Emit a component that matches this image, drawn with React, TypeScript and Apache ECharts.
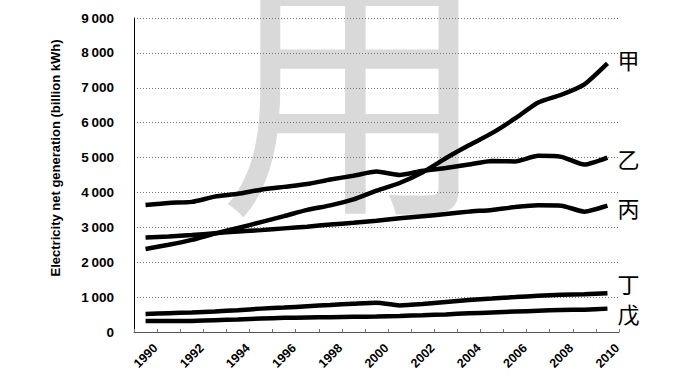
import React, { useEffect, useRef } from 'react';
import * as echarts from 'echarts';

const years = ['1990','1991','1992','1993','1994','1995','1996','1997','1998','1999','2000','2001','2002','2003','2004','2005','2006','2007','2008','2009','2010'];
const seriesNames = ['甲', '乙', '丙', '丁', '戊'];
const jia = [2380, 2500, 2640, 2820, 2980, 3150, 3320, 3500, 3630, 3800, 4050, 4270, 4580, 4980, 5350, 5700, 6120, 6580, 6800, 7100, 7700];
const yi = [3640, 3700, 3730, 3880, 3960, 4080, 4160, 4240, 4370, 4480, 4600, 4500, 4620, 4700, 4800, 4900, 4890, 5050, 5020, 4800, 5000];
const bing = [2710, 2740, 2780, 2830, 2880, 2920, 2970, 3020, 3080, 3130, 3190, 3260, 3320, 3380, 3450, 3500, 3580, 3630, 3620, 3450, 3620];
const ding = [516, 540, 560, 590, 625, 670, 700, 740, 775, 810, 840, 760, 800, 860, 920, 960, 1000, 1040, 1070, 1080, 1110];
const wu = [315, 315, 318, 340, 360, 385, 405, 415, 425, 435, 445, 460, 480, 505, 535, 560, 585, 610, 630, 640, 670];
const yAxisTitle = 'Electricity net generation (billion kWh)';
const watermark = '用';

const labelDy = [-4, 0, 1, -10, 4];
const FONT = '"Liberation Sans", Arial, sans-serif';

export default function App() {
  const ref = useRef<HTMLDivElement>(null);
  useEffect(() => {
    document.body.style.margin = '0';
    const chart = echarts.init(ref.current!, null, { renderer: 'svg' });
    const allData = [jia, yi, bing, ding, wu];
    chart.setOption({
      animation: false,
      backgroundColor: '#fff',
      grid: { left: 134, right: 56, top: 18, bottom: 59, containLabel: false },
      xAxis: {
        type: 'category',
        data: years,
        boundaryGap: true,
        axisLine: { show: true, lineStyle: { color: '#555', width: 1 } },
        axisTick: { show: true, interval: 0, length: 3, inside: true, lineStyle: { color: '#777' } },
        axisLabel: { show: false },
        splitLine: { show: false },
      },
      yAxis: {
        type: 'value',
        min: 0,
        max: 9000,
        interval: 1000,
        axisLine: { show: true, lineStyle: { color: '#000', width: 1 } },
        axisTick: { show: false },
        axisLabel: {
          margin: 20,
          fontSize: 13.5,
          fontWeight: 'bold',
          color: '#000',
          fontFamily: FONT,
          formatter: (v: number) => (v === 0 ? '0' : `${Math.floor(v / 1000)}\u2009000`),
        },
        splitLine: { show: true, lineStyle: { color: '#777', width: 1, type: [1, 2] } },
      },
      series: seriesNames.map((name, i) => ({
        name,
        type: 'line',
        data: allData[i],
        showSymbol: false,
        symbol: 'none',
        smooth: 0.2,
        lineStyle: { color: '#000', width: 4.5 },
        z: 3,
        endLabel: {
          show: true,
          formatter: '{a}',
          color: '#000',
          fontSize: 22,
          lineHeight: 22,
          distance: 10,
          offset: [0, labelDy[i]],
          fontFamily: '"Noto Sans CJK SC", sans-serif',
        },
      })),
    });

    const xLabels: any[] = [];
    years.forEach((yr, i) => {
      if (i % 2 !== 0) return;
      const pt = chart.convertToPixel({ gridIndex: 0 }, [i, 0]) as number[];
      xLabels.push({
        type: 'group',
        x: pt[0] + 10,
        y: pt[1] + 14,
        rotation: Math.PI / 4,
        silent: true,
        children: [
          {
            type: 'text',
            x: 0,
            y: 0,
            style: {
              text: yr,
              fill: '#000',
              font: `bold 12.5px ${FONT}`,
              textAlign: 'right',
              textVerticalAlign: 'middle',
            },
          },
        ],
      });
    });

    chart.setOption({
      graphic: [
        {
          type: 'text',
          x: 354,
          y: 77,
          z: -10,
          silent: true,
          style: {
            text: watermark,
            fill: '#d9d9d9',
            font: 'normal 270px "Noto Sans CJK SC"',
            textAlign: 'center',
            textVerticalAlign: 'middle',
          },
        },
        {
          type: 'text',
          x: 55,
          y: 158,
          rotation: Math.PI / 2,
          silent: true,
          style: {
            text: yAxisTitle,
            fill: '#000',
            font: `bold 13px ${FONT}`,
            textAlign: 'center',
            textVerticalAlign: 'middle',
          },
        },
        ...xLabels,
      ],
    });
    return () => chart.dispose();
  }, []);
  return <div ref={ref} style={{ width: 675, height: 391 }} />;
}
